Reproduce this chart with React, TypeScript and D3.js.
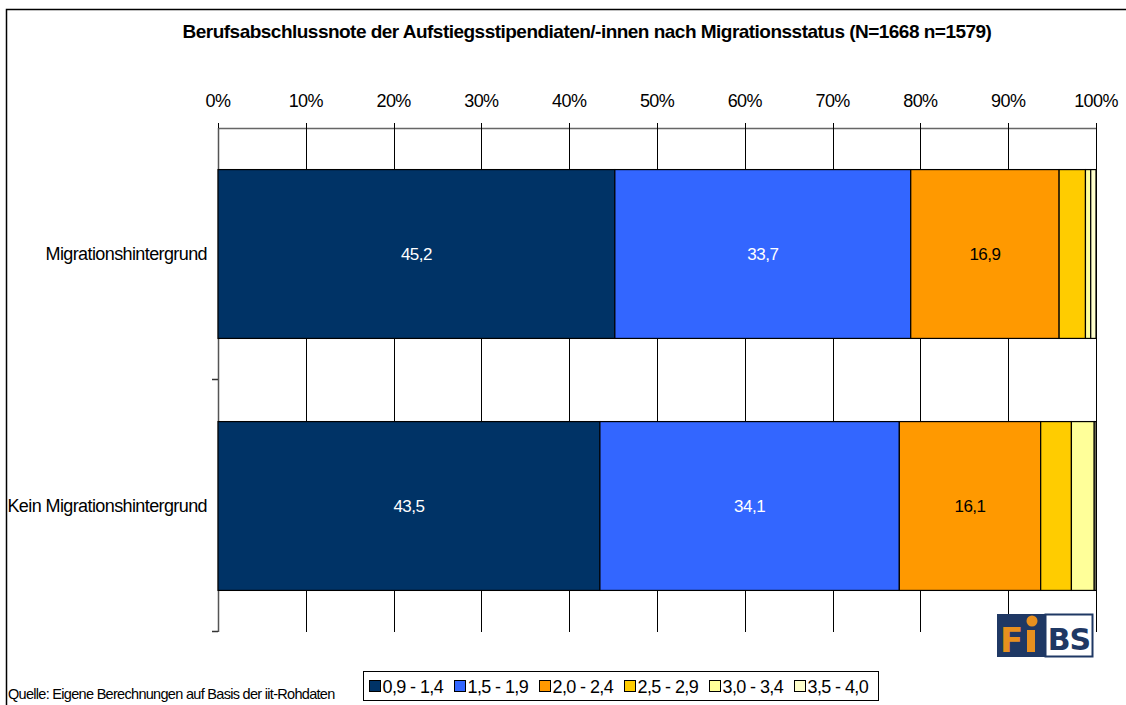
import { useEffect, useRef } from 'react';
import * as d3 from 'd3';

// Daten
const categories = ['Migrationshintergrund', 'Kein Migrationshintergrund'];
const grades = ['0,9 - 1,4', '1,5 - 1,9', '2,0 - 2,4', '2,5 - 2,9', '3,0 - 3,4', '3,5 - 4,0'];
const migration = [45.2, 33.7, 16.9, 3.0, 0.6, 0.6];
const keinMigration = [43.5, 34.1, 16.1, 3.5, 2.6, 0.2];
const ticks = [0, 10, 20, 30, 40, 50, 60, 70, 80, 90, 100];
const colors = ['#003366', '#3366FF', '#FF9900', '#FFCC00', '#FFFF99', '#FFFFCC'];

const title = 'Berufsabschlussnote der Aufstiegsstipendiaten/-innen nach Migrationsstatus (N=1668 n=1579)';
const source = 'Quelle: Eigene Berechnungen auf Basis der iit-Rohdaten';

const W = 1126;
const H = 705;
const FONT = '"Liberation Sans", Arial, sans-serif';

export default function App() {
  const svgRef = useRef<SVGSVGElement>(null);

  useEffect(() => {
    if (!svgRef.current) return;
    const root = d3.select(svgRef.current);
    root.selectAll('*').remove();

    const svg = root.attr('width', W).attr('height', H).style('font-family', FONT);

    // Rahmen
    svg.append('rect')
      .attr('x', 6.5).attr('y', 9.5)
      .attr('width', W + 20).attr('height', H + 20)
      .attr('fill', '#fff')
      .attr('stroke', '#000')
      .attr('stroke-width', 1.5);

    svg.append('text')
      .attr('x', 587).attr('y', 38)
      .attr('text-anchor', 'middle')
      .attr('font-size', 19)
      .attr('font-weight', 'bold')
      .attr('letter-spacing', -0.52)
      .text(title);

    const x = d3.scaleLinear().domain([0, 100]).range([218, 1096]);
    const y = d3.scaleBand<string>()
      .domain(categories)
      .range([128, 632])
      .paddingInner(0.33)
      .paddingOuter(0.165);

    const rows = [migration, keinMigration];

    // Gitterlinien
    svg.append('g')
      .selectAll('line')
      .data(ticks)
      .enter()
      .append('line')
      .attr('x1', d => Math.round(x(d)) + 0.5)
      .attr('x2', d => Math.round(x(d)) + 0.5)
      .attr('y1', 128)
      .attr('y2', 632)
      .attr('stroke', '#000')
      .attr('stroke-width', 1);

    // obere Achse
    const topAxis = svg.append('g');
    topAxis.append('line')
      .attr('x1', x(0)).attr('x2', x(100))
      .attr('y1', 128.5).attr('y2', 128.5)
      .attr('stroke', '#666').attr('stroke-width', 1.5);
    topAxis.selectAll('line.tick')
      .data(ticks)
      .enter()
      .append('line')
      .attr('class', 'tick')
      .attr('x1', d => Math.round(x(d)) + 0.5)
      .attr('x2', d => Math.round(x(d)) + 0.5)
      .attr('y1', 123).attr('y2', 130)
      .attr('stroke', '#000');
    topAxis.selectAll('text')
      .data(ticks)
      .enter()
      .append('text')
      .attr('x', d => x(d))
      .attr('y', 107)
      .attr('text-anchor', 'middle')
      .attr('font-size', 18)
      .attr('letter-spacing', -0.6)
      .text(d => `${d}%`);

    // linke Achse
    svg.append('line')
      .attr('x1', 218.5).attr('x2', 218.5)
      .attr('y1', 128).attr('y2', 632)
      .attr('stroke', '#555').attr('stroke-width', 1.5);
    const bandEdges = [y.range()[0] + y.step(), y.range()[1]];
    svg.selectAll('line.ytick')
      .data(bandEdges)
      .enter()
      .append('line')
      .attr('class', 'ytick')
      .attr('x1', 212).attr('x2', 218)
      .attr('y1', d => Math.round(d) - 0.5)
      .attr('y2', d => Math.round(d) - 0.5)
      .attr('stroke', '#333').attr('stroke-width', 1.5);

    // Balken
    categories.forEach((cat, ci) => {
      const vals = rows[ci];
      const starts = vals.map((_, i) => d3.sum(vals.slice(0, i)));
      const g = svg.append('g');
      g.selectAll('rect')
        .data(vals)
        .enter()
        .append('rect')
        .attr('x', (_, i) => x(starts[i]))
        .attr('y', y(cat)!)
        .attr('width', d => x(d) - x(0))
        .attr('height', y.bandwidth())
        .attr('fill', (_, i) => colors[i])
        .attr('stroke', '#000')
        .attr('stroke-width', 1.2);
      g.selectAll('text')
        .data(vals.map((v, i) => ({ v, i })).filter(d => d.v >= 10))
        .enter()
        .append('text')
        .attr('x', d => x(starts[d.i] + d.v / 2))
        .attr('y', y(cat)! + y.bandwidth() / 2 + 6)
        .attr('text-anchor', 'middle')
        .attr('font-size', 17)
        .attr('letter-spacing', -0.5)
        .attr('fill', d => (d.i < 2 ? '#fff' : '#000'))
        .text(d => d3.format('.1f')(d.v).replace('.', ','));

      svg.append('text')
        .attr('x', 207)
        .attr('y', y(cat)! + y.bandwidth() / 2 + 6)
        .attr('text-anchor', 'end')
        .attr('font-size', 18)
        .attr('letter-spacing', -0.6)
        .text(cat);
    });

    // Legende
    const legend = svg.append('g');
    legend.append('rect')
      .attr('x', 363.5).attr('y', 671.5)
      .attr('width', 515).attr('height', 29)
      .attr('fill', '#fff')
      .attr('stroke', '#000');
    const items = legend.selectAll('g.item')
      .data(grades)
      .enter()
      .append('g')
      .attr('class', 'item')
      .attr('transform', (_, i) => `translate(${369 + i * 85},0)`);
    items.append('rect')
      .attr('x', 0.5).attr('y', 680.5)
      .attr('width', 11).attr('height', 11)
      .attr('fill', (_, i) => colors[i])
      .attr('stroke', '#000');
    items.append('text')
      .attr('x', 13.5).attr('y', 693)
      .attr('font-size', 18)
      .attr('letter-spacing', -0.6)
      .text(d => d);

    svg.append('text')
      .attr('x', 8).attr('y', 699)
      .attr('font-size', 14.5)
      .attr('letter-spacing', -0.7)
      .text(source);

    // Logo
    const logo = svg.append('g');
    logo.append('rect')
      .attr('x', 997).attr('y', 614).attr('width', 48).attr('height', 43)
      .attr('fill', '#1F3864');
    logo.append('rect')
      .attr('x', 1045.5).attr('y', 614.5).attr('width', 47).attr('height', 42)
      .attr('fill', '#fff').attr('stroke', '#1F3864').attr('stroke-width', 2);
    logo.append('text')
      .attr('x', 1000).attr('y', 652)
      .attr('font-size', 34).attr('font-weight', 'bold')
      .attr('font-family', '"DejaVu Sans", sans-serif')
      .attr('fill', '#E8901E')
      .text('F');
    logo.append('rect')
      .attr('x', 1027).attr('y', 630).attr('width', 8).attr('height', 22)
      .attr('fill', '#E8901E');
    logo.append('circle')
      .attr('cx', 1032).attr('cy', 621).attr('r', 5.5)
      .attr('fill', '#E8901E');
    logo.append('text')
      .attr('x', 1069).attr('y', 650)
      .attr('text-anchor', 'middle')
      .attr('font-size', 30).attr('font-weight', 'bold')
      .attr('font-family', '"DejaVu Sans", sans-serif')
      .attr('letter-spacing', -1)
      .attr('fill', '#1F3864')
      .text('BS');
  }, []);

  return (
    <div style={{ position: 'absolute', left: 0, top: 0, background: '#fff' }}>
      <svg ref={svgRef} width={W} height={H}></svg>
    </div>
  );
}
